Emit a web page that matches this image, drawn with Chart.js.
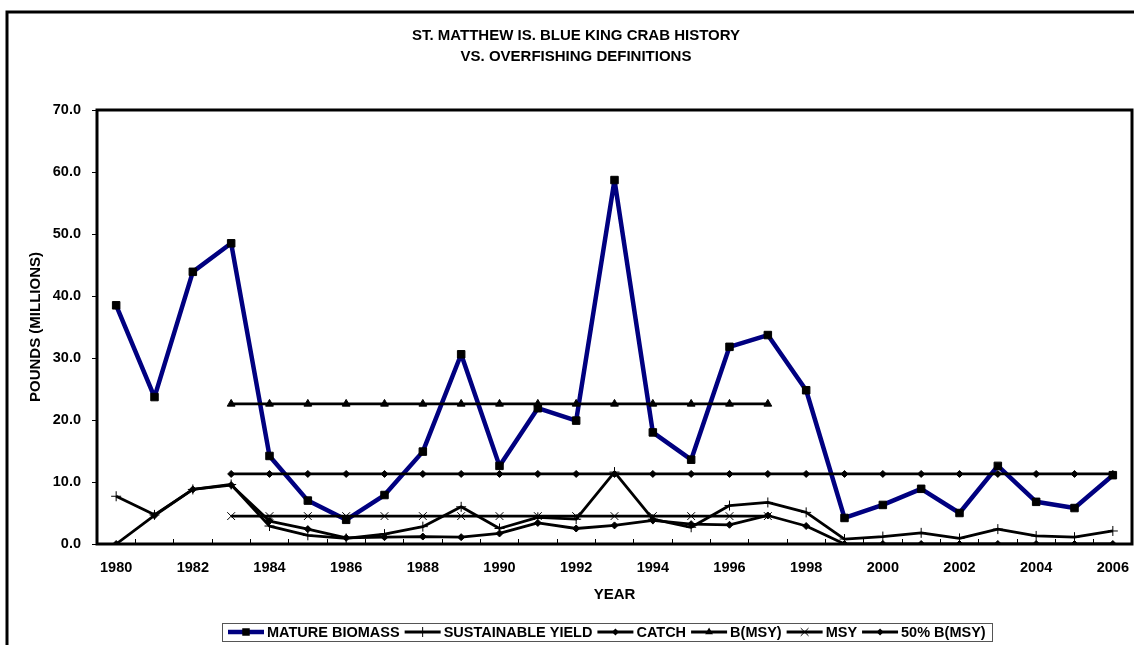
<!DOCTYPE html>
<html>
<head>
<meta charset="utf-8">
<script src="https://cdn.jsdelivr.net/npm/chart.js@4.4.1/dist/chart.umd.min.js"></script>
<style>
  html, body { margin: 0; padding: 0; background: #fff; }
  #wrap { width: 1134px; height: 645px; position: relative; }
</style>
</head>
<body>
<div id="wrap"><canvas id="crabChart"></canvas></div>
<script>
const years = ['1980','1981','1982','1983','1984','1985','1986','1987','1988','1989','1990','1991','1992','1993',
  '1994','1995','1996','1997','1998','1999','2000','2001','2002','2003','2004','2005','2006'];

const matureBiomass = [38.5, 23.7, 43.9, 48.5, 14.2, 7.0, 3.9, 7.9, 14.9, 30.6, 12.6, 21.9, 19.9, 58.7,
  18.0, 13.6, 31.8, 33.7, 24.8, 4.2, 6.3, 8.9, 5.0, 12.6, 6.8, 5.8, 11.1];
const sustainableYield = [7.7, 4.7, 8.8, 9.6, 2.9, 1.4, 0.9, 1.6, 2.8, 6.0, 2.5, 4.3, 4.0, 11.6,
  4.0, 2.7, 6.2, 6.7, 5.1, 0.8, 1.2, 1.8, 0.9, 2.4, 1.3, 1.1, 2.1];
const catchLbs = [0, 4.6, 8.8, 9.5, 3.7, 2.4, 1.0, 1.1, 1.2, 1.1, 1.7, 3.4, 2.5, 3.0,
  3.8, 3.2, 3.1, 4.6, 2.9, 0, 0, 0, 0, 0, 0, 0, 0];
const bMsy = [null, null, null, 22.6, 22.6, 22.6, 22.6, 22.6, 22.6, 22.6, 22.6, 22.6, 22.6, 22.6,
  22.6, 22.6, 22.6, 22.6, null, null, null, null, null, null, null, null, null];
const msy = [null, null, null, 4.5, 4.5, 4.5, 4.5, 4.5, 4.5, 4.5, 4.5, 4.5, 4.5, 4.5,
  4.5, 4.5, 4.5, 4.5, null, null, null, null, null, null, null, null, null];
const halfBMsy = [null, null, null, 11.3, 11.3, 11.3, 11.3, 11.3, 11.3, 11.3, 11.3, 11.3, 11.3, 11.3,
  11.3, 11.3, 11.3, 11.3, 11.3, 11.3, 11.3, 11.3, 11.3, 11.3, 11.3, 11.3, 11.3];

const titleLines = ['ST. MATTHEW IS. BLUE KING CRAB HISTORY', 'VS. OVERFISHING DEFINITIONS'];
const yTitle = 'POUNDS (MILLIONS)';
const xTitle = 'YEAR';

const FAMILY = '"Liberation Sans", Arial, Helvetica, sans-serif';
const boldFont = size => ({ family: FAMILY, size: size, weight: 'bold' });

// petit dessin de marqueur pour la légende
function drawMarker(ctx, style, x, y, r) {
  ctx.beginPath();
  if (style === 'rect') {
    const s = r * Math.SQRT1_2;
    ctx.rect(x - s, y - s, 2 * s, 2 * s);
    ctx.fill();
  } else if (style === 'rectRot') {
    ctx.moveTo(x, y - r); ctx.lineTo(x + r, y); ctx.lineTo(x, y + r); ctx.lineTo(x - r, y);
    ctx.closePath(); ctx.fill();
  } else if (style === 'triangle') {
    ctx.moveTo(x, y - r); ctx.lineTo(x + r * 0.87, y + r * 0.5); ctx.lineTo(x - r * 0.87, y + r * 0.5);
    ctx.closePath(); ctx.fill();
  } else if (style === 'cross') {
    ctx.lineWidth = 1;
    ctx.moveTo(x, y - r); ctx.lineTo(x, y + r); ctx.moveTo(x - r, y); ctx.lineTo(x + r, y);
    ctx.stroke();
  } else if (style === 'crossRot') {
    const s = r * Math.SQRT1_2;
    ctx.lineWidth = 1;
    ctx.moveTo(x - s, y - s); ctx.lineTo(x + s, y + s); ctx.moveTo(x - s, y + s); ctx.lineTo(x + s, y - s);
    ctx.stroke();
  }
}

// cadre extérieur + cadre de la zone de tracé
const framePlugin = {
  id: 'frames',
  beforeDraw(chart) {
    const ctx = chart.ctx;
    ctx.save();
    ctx.strokeStyle = '#000';
    ctx.lineWidth = 3;
    ctx.beginPath();
    ctx.moveTo(7, chart.height + 5);
    ctx.lineTo(7, 12);
    ctx.lineTo(chart.width + 5, 12);
    ctx.stroke();
    ctx.restore();
  },
  beforeDatasetsDraw(chart) {
    const { ctx, chartArea: a } = chart;
    ctx.save();
    ctx.strokeStyle = '#000';
    ctx.lineWidth = 3;
    ctx.strokeRect(a.left, a.top, a.right - a.left, a.bottom - a.top);
    ctx.restore();
  }
};

// légende encadrée façon Excel
const legendPlugin = {
  id: 'boxLegend',
  afterDraw(chart) {
    const ctx = chart.ctx;
    const sample = 36, gapText = 3, gapItem = 5, padX = 6;
    const top = 623, h = 18, midY = top + h / 2;
    ctx.save();
    ctx.font = 'bold 14.5px ' + FAMILY;
    const items = chart.data.datasets.map(ds => ({ ds, w: ctx.measureText(ds.label).width }));
    let total = padX * 2;
    items.forEach((it, i) => { total += sample + gapText + it.w + (i ? gapItem : 0); });
    let x = 222;
    ctx.fillStyle = '#fff';
    ctx.fillRect(x, top, total, h);
    ctx.strokeStyle = '#555';
    ctx.lineWidth = 1;
    ctx.strokeRect(Math.round(x) + 0.5, top + 0.5, Math.round(total), h);
    x += padX;
    items.forEach((it, i) => {
      if (i) x += gapItem;
      const ds = it.ds;
      ctx.strokeStyle = ds.borderColor;
      ctx.lineWidth = ds.borderWidth;
      ctx.beginPath();
      ctx.moveTo(x, midY); ctx.lineTo(x + sample, midY);
      ctx.stroke();
      ctx.fillStyle = '#000';
      ctx.strokeStyle = '#000';
      drawMarker(ctx, ds.pointStyle, x + sample / 2, midY, ds.pointRadius);
      x += sample + gapText;
      ctx.fillStyle = '#000';
      ctx.textBaseline = 'middle';
      ctx.textAlign = 'left';
      ctx.fillText(ds.label, x, midY + 1);
      x += it.w;
    });
    ctx.restore();
  }
};

const blackLine = (label, data, style, radius) => ({
  label, data,
  borderColor: '#000',
  backgroundColor: '#000',
  borderWidth: 2.8,
  borderJoinStyle: 'round',
  pointStyle: style,
  pointRadius: radius,
  pointHoverRadius: radius,
  pointBackgroundColor: '#000',
  pointBorderColor: '#000',
  pointBorderWidth: 1,
  tension: 0,
  spanGaps: false,
  order: 0
});

const chart = new Chart(document.getElementById('crabChart'), {
  type: 'line',
  data: {
    labels: years,
    datasets: [
      {
        label: 'MATURE BIOMASS',
        data: matureBiomass,
        borderColor: '#000080',
        backgroundColor: '#000080',
        borderWidth: 4.5,
        borderJoinStyle: 'round',
        pointStyle: 'rect',
        pointRadius: 5.3,
        pointHoverRadius: 5.3,
        pointBackgroundColor: '#000',
        pointBorderColor: '#000',
        pointBorderWidth: 1,
        tension: 0,
        order: 1
      },
      blackLine('SUSTAINABLE YIELD', sustainableYield, 'cross', 5),
      blackLine('CATCH', catchLbs, 'rectRot', 3.5),
      blackLine('B(MSY)', bMsy, 'triangle', 4.5),
      blackLine('MSY', msy, 'crossRot', 5.5),
      blackLine('50% B(MSY)', halfBMsy, 'rectRot', 3.5)
    ]
  },
  options: {
    responsive: true,
    maintainAspectRatio: false,
    animation: false,
    layout: { autoPadding: false, padding: { left: 20, right: 2, top: 0, bottom: 41 } },
    plugins: {
      legend: { display: false },
      tooltip: { enabled: false },
      title: {
        display: true,
        text: titleLines,
        color: '#000',
        font: { family: FAMILY, size: 15, weight: 'bold', lineHeight: 1.4 },
        padding: { top: 25.5, bottom: 42.5 }
      }
    },
    scales: {
      x: {
        type: 'category',
        offset: true,
        grid: { display: true, offset: true, drawOnChartArea: false, drawTicks: true, tickLength: -5, color: '#000', lineWidth: 1 },
        border: { display: false },
        ticks: {
          autoSkip: false,
          maxRotation: 0,
          padding: 20,
          color: '#000',
          font: boldFont(14.5),
          callback: function (v) {
            const l = this.getLabelForValue(v);
            return (+l % 2 === 0) ? l : '';
          }
        },
        title: { display: true, text: xTitle, color: '#000', font: boldFont(15), padding: { top: 0, bottom: 0 } },
        afterFit: s => { s.height = 60; s.paddingLeft = 0; s.paddingRight = 0; }
      },
      y: {
        min: 0,
        max: 70,
        grid: { drawOnChartArea: false, drawTicks: true, tickLength: 5, color: '#000', lineWidth: 1 },
        border: { display: false },
        ticks: { stepSize: 10, padding: 11, color: '#000', font: boldFont(14.5), callback: v => v.toFixed(1) },
        title: { display: true, text: yTitle, color: '#000', font: boldFont(15), padding: { top: 7, bottom: 0 } },
        afterFit: s => { s.width = 77; }
      }
    }
  },
  plugins: [framePlugin, legendPlugin]
});
</script>
</body>
</html>
